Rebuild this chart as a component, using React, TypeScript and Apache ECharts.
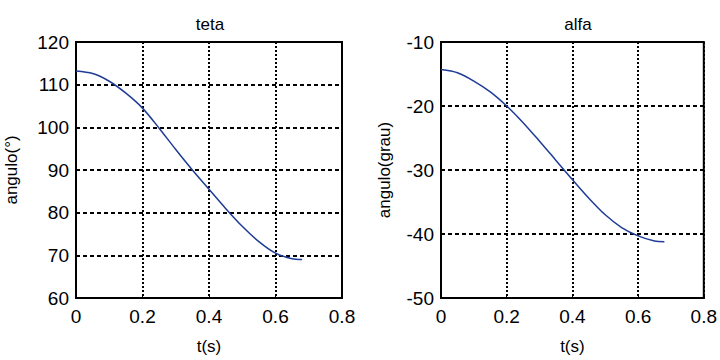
import React, { useEffect, useRef } from "react";
import * as echarts from "echarts";

// sample times (s)
const tempos = [0, 0.05, 0.1, 0.15, 0.2, 0.25, 0.3, 0.35, 0.4, 0.45, 0.5, 0.55, 0.6, 0.65, 0.68];
// teta angle (degrees)
const teta = [113.2, 112.6, 110.8, 108.0, 104.5, 99.8, 94.8, 90.0, 85.5, 81.0, 76.8, 73.2, 70.5, 69.2, 69.0];
// alfa angle (degrees)
const alfa = [-14.3, -14.8, -16.1, -17.8, -20.0, -22.6, -25.5, -28.5, -31.5, -34.4, -37.0, -39.0, -40.3, -41.1, -41.2];

const titulos = ["teta", "alfa"];
const nomesY = ["angulo(\u00b0)", "angulo(grau)"];
const nomeX = "t(s)";

const FONT = "'Liberation Sans', Arial, sans-serif";

function xAxisFor(gridIndex: number) {
  return {
    type: "value" as const,
    gridIndex,
    min: 0,
    max: 0.8,
    interval: 0.2,
    name: nomeX,
    nameLocation: "middle" as const,
    nameGap: 40,
    nameTextStyle: { color: "#000", fontSize: 17, fontFamily: FONT },
    axisLine: { show: true, lineStyle: { color: "#000", width: 2 } },
    axisTick: { show: true, inside: true, length: 4, lineStyle: { color: "#000" } },
    axisLabel: {
      color: "#000",
      fontSize: 19,
      fontFamily: FONT,
      margin: 9,
      formatter: (v: number) => (v === 0 ? "0" : String(Number(v.toFixed(1)))),
    },
    splitLine: {
      show: true,
      lineStyle: { color: "#000", width: 2, type: [2, 2] as any },
    },
  };
}

function yAxisFor(gridIndex: number, min: number, max: number, name: string, nameGap: number) {
  return {
    type: "value" as const,
    gridIndex,
    min,
    max,
    interval: 10,
    name,
    nameLocation: "middle" as const,
    nameGap,
    nameTextStyle: { color: "#000", fontSize: 17, fontFamily: FONT },
    axisLine: { show: true, lineStyle: { color: "#000", width: 2 } },
    axisTick: { show: true, inside: true, length: 4, lineStyle: { color: "#000" } },
    axisLabel: { color: "#000", fontSize: 19, fontFamily: FONT, margin: 7 },
    splitLine: {
      show: true,
      lineStyle: { color: "#000", width: 2, type: [4, 3] as any },
    },
  };
}

export default function App() {
  const ref = useRef<HTMLDivElement>(null);

  useEffect(() => {
    if (!ref.current) return;
    const chart = echarts.init(ref.current, undefined, { renderer: "svg" });
    const titleStyle = { color: "#000", fontSize: 17, fontWeight: "normal" as const, fontFamily: FONT };
    chart.setOption({
      animation: false,
      backgroundColor: "#fff",
      title: [
        { text: titulos[0], left: 205, top: 11, textAlign: "center", textStyle: titleStyle },
        { text: titulos[1], left: 573, top: 11, textAlign: "center", textStyle: titleStyle },
      ],
      grid: [
        { left: 76, top: 42, width: 266, height: 264, show: true, borderColor: "#000", borderWidth: 2, backgroundColor: "#fff" },
        { left: 441, top: 42, width: 266, height: 264, show: true, borderColor: "#000", borderWidth: 2, backgroundColor: "#fff" },
      ],
      xAxis: [xAxisFor(0), xAxisFor(1)],
      yAxis: [
        yAxisFor(0, 60, 120, nomesY[0], 56),
        yAxisFor(1, -50, -10, nomesY[1], 48),
      ],
      series: [
        {
          type: "line",
          xAxisIndex: 0,
          yAxisIndex: 0,
          data: tempos.map((t, i) => [t, teta[i]]),
          showSymbol: false,
          smooth: 0.3,
          lineStyle: { color: "#1f3c96", width: 1.5 },
        },
        {
          type: "line",
          xAxisIndex: 1,
          yAxisIndex: 1,
          data: tempos.map((t, i) => [t, alfa[i]]),
          showSymbol: false,
          smooth: 0.3,
          lineStyle: { color: "#1f3c96", width: 1.5 },
        },
      ],
    });
    return () => chart.dispose();
  }, []);

  return (
    <div
      ref={ref}
      style={{ position: "fixed", left: 0, top: 0, width: 720, height: 360, background: "#fff" }}
    />
  );
}
